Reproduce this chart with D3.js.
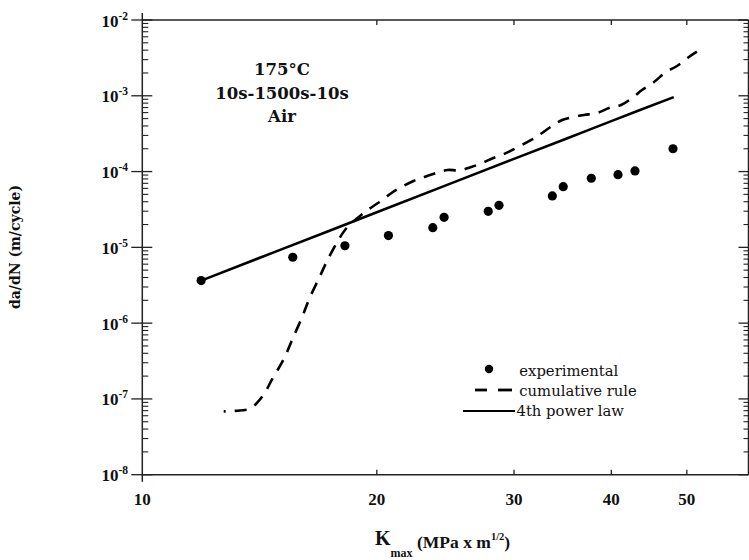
<!DOCTYPE html>
<html>
<head>
<meta charset="utf-8">
<script src="https://cdn.jsdelivr.net/npm/d3@7"></script>
<style>
html,body{margin:0;padding:0;background:#fff;}
svg{display:block;}
</style>
</head>
<body>
<svg id="chart" width="749" height="560"></svg>
<script>
// ---------------- data ----------------
const xTicks = [10, 20, 30, 40, 50];
const yTickExps = [-8, -7, -6, -5, -4, -3, -2];

const expK    = [11.9, 15.6, 18.2, 20.7, 23.6, 24.4, 27.8, 28.7, 33.6, 34.7, 37.7, 40.8, 42.9, 48.0];
const expRate = [3.64e-6, 7.40e-6, 1.05e-5, 1.43e-5, 1.82e-5, 2.49e-5, 2.99e-5, 3.59e-5, 4.77e-5, 6.32e-5, 8.16e-5, 9.10e-5, 1.02e-4, 2.00e-4];

const cumK    = [12.72, 13.34, 13.74, 14.07, 14.40, 14.66, 15.01, 15.28, 15.55, 16.02, 16.40, 16.89, 17.29, 17.92, 18.29, 18.89, 19.46, 20.16, 20.89, 21.51, 22.29, 23.02, 23.85, 24.64, 25.53, 26.45, 27.32, 28.22, 29.15, 30.20, 31.57, 32.32, 33.49, 34.59, 36.05, 36.91, 38.35, 39.73, 41.17, 42.53, 43.80, 45.38, 47.02, 48.57, 50.31, 51.51];
const cumRate = [6.84e-8, 7.05e-8, 7.38e-8, 9.12e-8, 1.26e-7, 1.78e-7, 2.69e-7, 3.80e-7, 5.82e-7, 1.17e-6, 2.15e-6, 4.07e-6, 6.82e-6, 1.33e-5, 1.80e-5, 2.44e-5, 3.11e-5, 3.97e-5, 5.22e-5, 6.27e-5, 7.52e-5, 8.49e-5, 9.59e-5, 1.05e-4, 1.04e-4, 1.15e-4, 1.30e-4, 1.51e-4, 1.71e-4, 2.05e-4, 2.61e-4, 3.04e-4, 3.94e-4, 4.80e-4, 5.33e-4, 5.58e-4, 5.93e-4, 6.90e-4, 7.56e-4, 9.35e-4, 1.19e-3, 1.52e-3, 2.06e-3, 2.47e-3, 3.25e-3, 3.82e-3];

const powK    = [11.9, 15, 20, 25, 30, 35, 40, 48.1];
const powRate = [3.64e-6, 9.2e-6, 2.9e-5, 7.1e-5, 1.47e-4, 2.71e-4, 4.63e-4, 9.6e-4];

const annotation = ["175°C", "10s-1500s-10s", "Air"];
const legendLabels = ["experimental", "cumulative rule", "4th power law"];

// ---------------- layout ----------------
const svg = d3.select("#chart");
const x = d3.scaleLog().domain([10, 60]).range([142.3, 748.5]);
const y = d3.scaleLog().domain([1e-8, 1e-2]).range([474.7, 20]);
const x0 = x.range()[0], x1 = x.range()[1], yB = y.range()[0], yT = y.range()[1];
const axisColor = "#222";
const tickFont = "'Liberation Serif', 'Times New Roman', serif";
const serif = "'DejaVu Serif', serif";

const g = svg.append("g");

// frame
g.append("line").attr("x1", x0).attr("x2", x0).attr("y1", yT - 7).attr("y2", yB + 7)
  .attr("stroke", axisColor).attr("stroke-width", 1.5);
g.append("line").attr("x1", x0).attr("x2", x1).attr("y1", yB).attr("y2", yB)
  .attr("stroke", axisColor).attr("stroke-width", 1.5);
g.append("line").attr("x1", x0).attr("x2", x1).attr("y1", yT).attr("y2", yT)
  .attr("stroke", axisColor).attr("stroke-width", 1.5);
g.append("line").attr("x1", x1).attr("x2", x1).attr("y1", yT).attr("y2", yB)
  .attr("stroke", axisColor).attr("stroke-width", 1.5);

// y ticks (left & right)
const yMajors = yTickExps.map(e => Math.pow(10, e));
const yMinors = [];
yTickExps.slice(0, -1).forEach(e => { for (let m = 2; m <= 9; m++) yMinors.push(m * Math.pow(10, e)); });

yMajors.forEach(v => {
  g.append("line").attr("x1", x0 - 11).attr("x2", x0 + 10).attr("y1", y(v)).attr("y2", y(v))
    .attr("stroke", axisColor).attr("stroke-width", 1.3);
  g.append("line").attr("x1", x1 - 10).attr("x2", x1).attr("y1", y(v)).attr("y2", y(v))
    .attr("stroke", axisColor).attr("stroke-width", 1.3);
});
yMinors.forEach(v => {
  g.append("line").attr("x1", x0).attr("x2", x0 + 6).attr("y1", y(v)).attr("y2", y(v))
    .attr("stroke", axisColor).attr("stroke-width", 1.1);
  g.append("line").attr("x1", x1 - 5).attr("x2", x1).attr("y1", y(v)).attr("y2", y(v))
    .attr("stroke", axisColor).attr("stroke-width", 1.1);
});

// y tick labels
yTickExps.forEach(e => {
  const t = g.append("text").attr("x", 128).attr("y", y(Math.pow(10, e)) + 6.5)
    .attr("text-anchor", "end").attr("font-family", tickFont).attr("font-weight", "bold")
    .attr("font-size", 17).attr("fill", "#111");
  t.append("tspan").text("10");
  t.append("tspan").attr("dy", -7).attr("font-size", 11.5).text(String(e));
});

// x ticks (top & bottom, inward)
xTicks.slice(1).forEach(v => {
  g.append("line").attr("x1", x(v)).attr("x2", x(v)).attr("y1", yB - 5).attr("y2", yB)
    .attr("stroke", axisColor).attr("stroke-width", 1.3);
  g.append("line").attr("x1", x(v)).attr("x2", x(v)).attr("y1", yT).attr("y2", yT + 5)
    .attr("stroke", axisColor).attr("stroke-width", 1.3);
});
xTicks.forEach(v => {
  g.append("text").attr("x", x(v)).attr("y", 505).attr("text-anchor", "middle")
    .attr("font-family", tickFont).attr("font-weight", "bold").attr("font-size", 17)
    .attr("fill", "#111").text(v);
});

// axis titles
const xt = g.append("text").attr("font-family", tickFont).attr("font-weight", "bold").attr("fill", "#111");
xt.append("tspan").attr("x", 375).attr("y", 545).attr("font-size", 20).text("K");
xt.append("tspan").attr("x", 390.5).attr("y", 557).attr("font-size", 12).text("max");
xt.append("tspan").attr("x", 417).attr("y", 548).attr("font-size", 17.5).text("(MPa x m");
xt.append("tspan").attr("dy", -8).attr("font-size", 10.5).text("1/2");
xt.append("tspan").attr("dy", 8).attr("font-size", 17.5).text(")");

g.append("text").attr("transform", "translate(20,247) rotate(-90)")
  .attr("text-anchor", "middle").attr("font-family", serif).attr("font-weight", "bold")
  .attr("font-size", 14).attr("fill", "#111").text("da/dN (m/cycle)");

// annotation
annotation.forEach((s, i) => {
  g.append("text").attr("x", 282).attr("y", 75 + i * 23.7).attr("text-anchor", "middle")
    .attr("font-family", serif).attr("font-weight", "bold").attr("font-size", 16.5)
    .attr("fill", "#111").text(s);
});

// series
const lineGen = d3.line().x(d => x(d[0])).y(d => y(d[1])).curve(d3.curveCatmullRom);
const cumData = cumK.map((k, i) => [k, cumRate[i]]);
const powData = powK.map((k, i) => [k, powRate[i]]);

g.append("path").attr("d", lineGen(powData)).attr("fill", "none")
  .attr("stroke", "#000").attr("stroke-width", 2.6);
g.append("path").attr("d", lineGen(cumData)).attr("fill", "none")
  .attr("stroke", "#000").attr("stroke-width", 2.6).attr("stroke-dasharray", "12,9")
  .attr("stroke-dashoffset", 10);

g.selectAll("circle.exp").data(expK.map((k, i) => [k, expRate[i]])).enter()
  .append("circle").attr("class", "exp")
  .attr("cx", d => x(d[0])).attr("cy", d => y(d[1])).attr("r", 4.6).attr("fill", "#000");

// legend
g.append("circle").attr("cx", 489).attr("cy", 369).attr("r", 4.2).attr("fill", "#000");
g.append("line").attr("x1", 475).attr("x2", 487).attr("y1", 390).attr("y2", 390)
  .attr("stroke", "#000").attr("stroke-width", 2.8);
g.append("line").attr("x1", 498).attr("x2", 512).attr("y1", 390).attr("y2", 390)
  .attr("stroke", "#000").attr("stroke-width", 2.8);
g.append("line").attr("x1", 463).attr("x2", 515).attr("y1", 411).attr("y2", 411)
  .attr("stroke", "#000").attr("stroke-width", 2.2);
legendLabels.forEach((s, i) => {
  g.append("text").attr("x", i === 2 ? 516.5 : 519.3).attr("y", 375.5 + i * 20.3)
    .attr("font-family", serif).attr("font-size", 14.8).attr("fill", "#111").text(s);
});
</script>
</body>
</html>
